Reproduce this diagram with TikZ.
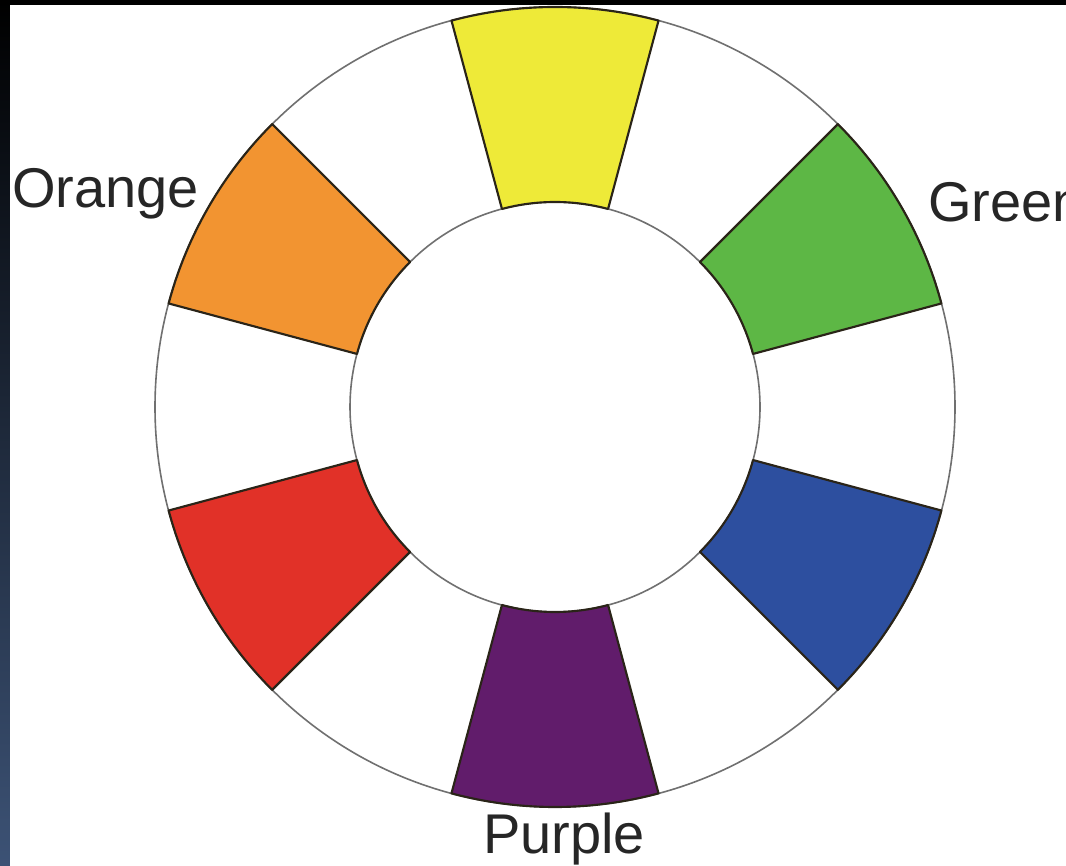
\documentclass[tikz,border=0pt]{standalone}
\usepackage{fontspec}
\setmainfont{Liberation Sans}
\usetikzlibrary{calc}
\definecolor{cwYellow}{HTML}{EEEA38}
\definecolor{cwGreen}{HTML}{5DB745}
\definecolor{cwBlue}{HTML}{2D4F9F}
\definecolor{cwPurple}{HTML}{611C6B}
\definecolor{cwRed}{HTML}{E13128}
\definecolor{cwOrange}{HTML}{F29431}
\definecolor{cwNavy}{HTML}{3C5275}
\definecolor{cwGray}{HTML}{707070}
\definecolor{cwEdge}{HTML}{2A2418}
\tikzset{
  ringline/.style={draw=cwGray, line width=1.2pt},
  sector/.style={draw=cwEdge, line width=1.6pt, line join=round},
  colorlabel/.style={anchor=base west, inner sep=0pt, font=\fontsize{42}{48}\selectfont, text=black!85}
}
\begin{document}
\begin{tikzpicture}[x=0.75pt,y=0.75pt]
\useasboundingbox (0,0) rectangle (1066,866);
% background: dark slide edge
\shade[top color=black, bottom color=cwNavy] (0,0) rectangle (1066,866);
\fill[black] (0,861) rectangle (1066,866);
\fill[white] (10,0) rectangle (1066,861);
% wheel
\coordinate (C) at (555,459);
\def\Ro{400}
\def\Ri{205}
\draw[ringline] (C) circle[radius=\Ro];
\draw[ringline] (C) circle[radius=\Ri];
\foreach \ang/\col in {90/cwYellow,30/cwGreen,-30/cwBlue,-90/cwPurple,-150/cwRed,150/cwOrange}{
  \pgfmathsetmacro{\aA}{\ang-15}
  \pgfmathsetmacro{\aB}{\ang+15}
  \draw[sector, fill=\col] ($(C)+(\aA:\Ro)$) arc[start angle=\aA, end angle=\aB, radius=\Ro]
     -- ($(C)+(\aB:\Ri)$) arc[start angle=\aB, end angle=\aA, radius=\Ri] -- cycle;
}
% labels
\node[colorlabel] (orange) at (12,658) {Orange};
\node[colorlabel] (green) at (928,644) {Green};
\node[colorlabel] (purple) at (483,12) {Purple};
\end{tikzpicture}
\end{document}
